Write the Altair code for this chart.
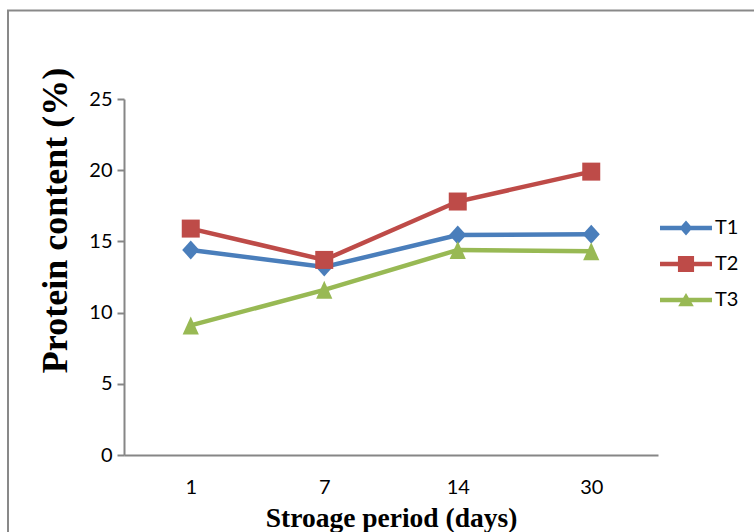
import altair as alt
import pandas as pd

days = ["1", "7", "14", "30"]
series = ["T1", "T2", "T3"]
t1 = [14.4, 13.2, 15.45, 15.5]
t2 = [15.9, 13.7, 17.8, 19.9]
t3 = [9.1, 11.6, 14.4, 14.3]
colors = ["#4A7EBB", "#BE4B48", "#98B954"]
y_ticks = [0, 5, 10, 15, 20, 25]

rows = []
for name, vals in zip(series, [t1, t2, t3]):
    for d, v in zip(days, vals):
        rows.append({"day": d, "series": name, "value": v})
df = pd.DataFrame(rows)

AX = "#868686"
LABEL_FONT = "Lato"
TITLE_FONT = "Liberation Serif"

x = alt.X(
    "day:O", sort=days,
    scale=alt.Scale(type="point", padding=0.5),
    axis=alt.Axis(
        title="Stroage period (days)", labelAngle=0, ticks=False, tickSize=0,
        labelPadding=22, labelFontSize=20, labelFont=LABEL_FONT, labelColor="#000",
        domainColor=AX, domainWidth=2, grid=False,
        titleFont=TITLE_FONT, titleFontWeight="bold", titleFontSize=27.5, titleColor="#000",
        titleX=267, titleY=71, titleAlign="center", titleBaseline="alphabetic",
    ),
)
y = alt.Y(
    "value:Q",
    scale=alt.Scale(domain=[0, 25], nice=False, zero=True),
    axis=alt.Axis(
        values=y_ticks, title="Protein content (%)", grid=False,
        tickSize=7, tickWidth=2, tickColor=AX, domainColor=AX, domainWidth=2,
        labelFontSize=20, labelFont=LABEL_FONT, labelPadding=5, labelColor="#000",
        titleFont=TITLE_FONT, titleFontWeight="bold", titleFontSize=36, titleColor="#000",
        titleAngle=270, titleX=-58, titleY=121, titleAlign="center", titleBaseline="alphabetic",
    ),
)

color_nolegend = alt.Color("series:N", scale=alt.Scale(domain=series, range=colors), legend=None)

base = alt.Chart(df)

lines = base.mark_line(strokeWidth=4.5).encode(x=x, y=y, color=color_nolegend, detail="series:N")

marker_shapes = [
    "M0,-1L0.9,0L0,1L-0.9,0Z",
    "square",
    "M0,-1L0.9,1L-0.9,1Z",
]
marker_sizes = [361, 324, 324]
point_layers = []
for s, shp, sz in zip(series, marker_shapes, marker_sizes):
    point_layers.append(
        base.transform_filter(alt.datum.series == s)
        .mark_point(filled=True, opacity=1, shape=shp, size=sz, strokeWidth=0)
        .encode(x=x, y=y, color=color_nolegend)
    )

legend_paths = [
    "M-1,-0.09H1V0.09H-1Z M0,-0.29L0.25,0L0,0.29L-0.25,0Z",
    "M-1,-0.09H1V0.09H-1Z M-0.31,-0.31H0.31V0.31H-0.31Z",
    "M-1,-0.09H1V0.09H-1Z M0,-0.27L0.3,0.24H-0.3Z",
]
legend_spec = alt.Legend(
    title=None, orient="none", legendX=536, legendY=103, direction="vertical",
    symbolSize=2704, symbolOpacity=1, symbolStrokeWidth=0,
    labelFontSize=20, labelFont=LABEL_FONT, labelColor="#000", labelOffset=3,
    rowPadding=-7, padding=0,
)
legend_layer = base.mark_point(filled=True, opacity=0).encode(
    x=x, y=y,
    color=alt.Color("series:N", scale=alt.Scale(domain=series, range=colors), legend=legend_spec),
    shape=alt.Shape("series:N", scale=alt.Scale(domain=series, range=legend_paths), legend=legend_spec),
)

frame = alt.Chart(pd.DataFrame({"f": [0]})).mark_rect(
    fill="transparent", stroke="#898989", strokeWidth=2
).encode(x=alt.value(-116), x2=alt.value(640), y=alt.value(-88.5), y2=alt.value(450))

chart = alt.layer(frame, legend_layer, lines, *point_layers).properties(
    width=534, height=356,
    autosize=alt.AutoSizeParams(type="none"),
    padding={"left": 124, "top": 99, "right": 96, "bottom": 77},
).configure_view(strokeWidth=0)

chart.save("out.html", embed_options={"renderer": "svg", "actions": False})
